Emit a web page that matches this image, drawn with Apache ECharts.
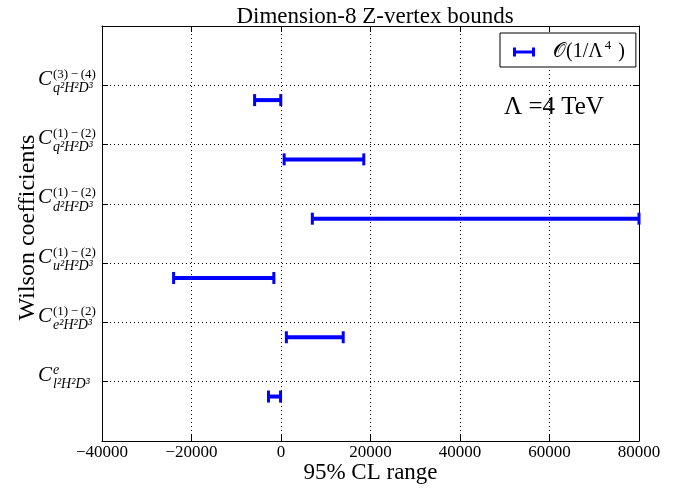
<!DOCTYPE html>
<html>
<head>
<meta charset="utf-8">
<script src="https://cdn.jsdelivr.net/npm/echarts@6/dist/echarts.min.js"></script>
<style>html,body{margin:0;padding:0;background:#fff}#c{width:688px;height:491px}</style>
</head>
<body>
<div id="c"></div>
<script>
// Coefficient labels, bottom to top: superscript and subscript parts of C
var supLabels = ['e', '(1)\u2009\u2212\u2009(2)', '(1)\u2009\u2212\u2009(2)', '(1)\u2009\u2212\u2009(2)', '(1)\u2009\u2212\u2009(2)', '(3)\u2009\u2212\u2009(4)'];
var subLabels = ['l\u00b2H\u00b2D\u00b3', 'e\u00b2H\u00b2D\u00b3', 'u\u00b2H\u00b2D\u00b3', 'd\u00b2H\u00b2D\u00b3', 'q\u00b2H\u00b2D\u00b3', 'q\u00b2H\u00b2D\u00b3'];
var supItalic = [true, false, false, false, false, false];

// 95% CL bounds for each coefficient (same order)
var lowBounds  = [-2800, 1200, -24000, 7000, 700, -5900];
var highBounds = [-100, 13900, -1600, 80000, 18500, -50];

var xTicks = [-40000, -20000, 0, 20000, 40000, 60000, 80000];
var seriesName = 'O(1/\u039b4)';
var scaleText = '\u039b =4 TeV';

var SERIF = '"Liberation Serif","DejaVu Serif",serif';
var BLUE = '#0000ff';

var data = lowBounds.map(function (lo, i) { return [i + 1, lo, highBounds[i]]; });

// three overlapping rows (superscript, the big C, subscript), all the same width
var CW = 15, TW = 44;
var rich = {
  Ch1: {fontFamily: SERIF, fontStyle: 'italic', fontSize: 21, color: 'transparent', lineHeight: 8, width: CW, align: 'left'},
  Ch3: {fontFamily: SERIF, fontStyle: 'italic', fontSize: 21, color: 'transparent', lineHeight: 16, width: CW, align: 'left'},
  sup: {fontFamily: SERIF, fontSize: 13, color: '#000', lineHeight: 8, width: TW, align: 'left'},
  supi: {fontFamily: SERIF, fontSize: 14, fontStyle: 'italic', color: '#000', lineHeight: 8, width: TW, align: 'left'},
  C: {fontFamily: SERIF, fontStyle: 'italic', fontSize: 21, color: '#000', lineHeight: 2, width: CW, align: 'left'},
  pad: {fontFamily: SERIF, fontSize: 10, color: 'transparent', lineHeight: 2, width: TW, align: 'left'},
  sub: {fontFamily: SERIF, fontStyle: 'italic', fontSize: 14, color: '#000', lineHeight: 16, width: TW, align: 'left'}
};

var chart = echarts.init(document.getElementById('c'), null, {renderer: 'canvas'});

function frameAxis(pos, min, max, interval) {
  return {
    type: 'value', min: min, max: max, interval: interval, position: pos,
    axisLine: {show: true, onZero: false, lineStyle: {color: '#000', width: 1}},
    axisTick: {show: true, inside: true, length: 6, lineStyle: {color: '#000'}},
    axisLabel: {show: false}, splitLine: {show: false}
  };
}

var option = {
  animation: false,
  backgroundColor: '#fff',
  title: {
    text: 'Dimension-8 Z-vertex bounds',
    left: 370, textAlign: 'center', top: 0,
    textStyle: {fontFamily: SERIF, fontWeight: 'normal', fontSize: 23, color: '#000'}
  },
  grid: {left: 102, right: 49, top: 26, bottom: 50, show: false},
  legend: {
    left: 500, top: 33,
    orient: 'vertical',
    padding: [6, 11, 5, 13],
    borderColor: '#000', borderWidth: 1, borderRadius: 0,
    backgroundColor: '#fff',
    itemWidth: 22, itemHeight: 9, itemGap: 0,
    data: [{name: seriesName, icon: 'path://M0,0L3,0L3,3L19,3L19,0L22,0L22,9L19,9L19,6L3,6L3,9L0,9Z', itemStyle: {color: BLUE}}],
    formatter: function () { return '{o|\ud835\udcaa}{t|(1/\u039b}{s|4}{t| )}'; },
    textStyle: {
      padding: [0, 0, 0, 13],
      rich: {
        o: {fontFamily: SERIF, fontSize: 20, color: '#000', lineHeight: 26},
        t: {fontFamily: SERIF, fontSize: 20, color: '#000', lineHeight: 26},
        s: {fontFamily: SERIF, fontSize: 13, color: '#000', verticalAlign: 'top', lineHeight: 16, padding: [0, 2, 0, 2]}
      }
    }
  },
  xAxis: [{
    type: 'value', min: -40000, max: 80000, interval: 20000,
    name: '95% CL range', nameLocation: 'middle', nameGap: 20, nameMoveOverlap: false,
    nameTextStyle: {fontFamily: SERIF, fontSize: 23, color: '#000'},
    axisLine: {show: true, onZero: false, lineStyle: {color: '#000', width: 1}},
    axisTick: {show: true, inside: true, length: 6, lineStyle: {color: '#000'}},
    axisLabel: {
      fontFamily: SERIF, fontSize: 17, color: '#000', margin: 3,
      formatter: function (v) { return xTicks.indexOf(v) >= 0 ? String(v).replace('-', '\u2212') : ''; }
    },
    splitLine: {show: true, lineStyle: {color: '#000', type: [1, 3], width: 1}}
  }, frameAxis('top', -40000, 80000, 20000)],
  yAxis: [{
    type: 'value', min: 0, max: 7, interval: 1,
    name: 'Wilson coefficients', nameLocation: 'middle', nameGap: 62, nameRotate: 90, nameMoveOverlap: false,
    nameTextStyle: {fontFamily: SERIF, fontSize: 24, color: '#000', padding: [0, 0, 0, 12]},
    axisLine: {show: true, onZero: false, lineStyle: {color: '#000', width: 1}},
    axisTick: {show: true, inside: true, length: 6, lineStyle: {color: '#000'}},
    axisLabel: {
      margin: 5,
      padding: [0, 0, 4, 0],
      rich: rich,
      formatter: function (v) {
        var i = v - 1;
        if (i < 0 || i >= supLabels.length) return '';
        var s = supItalic[i] ? 'supi' : 'sup';
        return '{Ch1|C}{' + s + '|' + supLabels[i] + '}\n{C|C}{pad| }\n{Ch3|C}{sub|' + subLabels[i] + '}';
      }
    },
    splitLine: {show: true, lineStyle: {color: '#000', type: [1, 3], width: 1}}
  }, frameAxis('right', 0, 7, 1)],
  graphic: [{
    type: 'text', left: 504, top: 95,
    style: {text: scaleText, fontFamily: SERIF, fontSize: 25, fill: '#000'}
  }],
  series: [{
    name: seriesName,
    type: 'custom',
    clip: false,
    encode: {x: [1, 2], y: 0},
    data: data,
    renderItem: function (params, api) {
      // bars sit a quarter step below their coefficient's grid line
      var y = api.value(0) - 0.25;
      var p1 = api.coord([api.value(1), y]);
      var p2 = api.coord([api.value(2), y]);
      var h = 6;
      var st = {stroke: BLUE, lineWidth: 4};
      var cs = {stroke: BLUE, lineWidth: 3};
      return {
        type: 'group',
        children: [
          {type: 'line', shape: {x1: p1[0], y1: p1[1], x2: p2[0], y2: p2[1]}, style: st},
          {type: 'line', shape: {x1: p1[0], y1: p1[1] - h, x2: p1[0], y2: p1[1] + h}, style: cs},
          {type: 'line', shape: {x1: p2[0], y1: p2[1] - h, x2: p2[0], y2: p2[1] + h}, style: cs}
        ]
      };
    }
  }]
};

chart.setOption(option);
</script>
</body>
</html>
